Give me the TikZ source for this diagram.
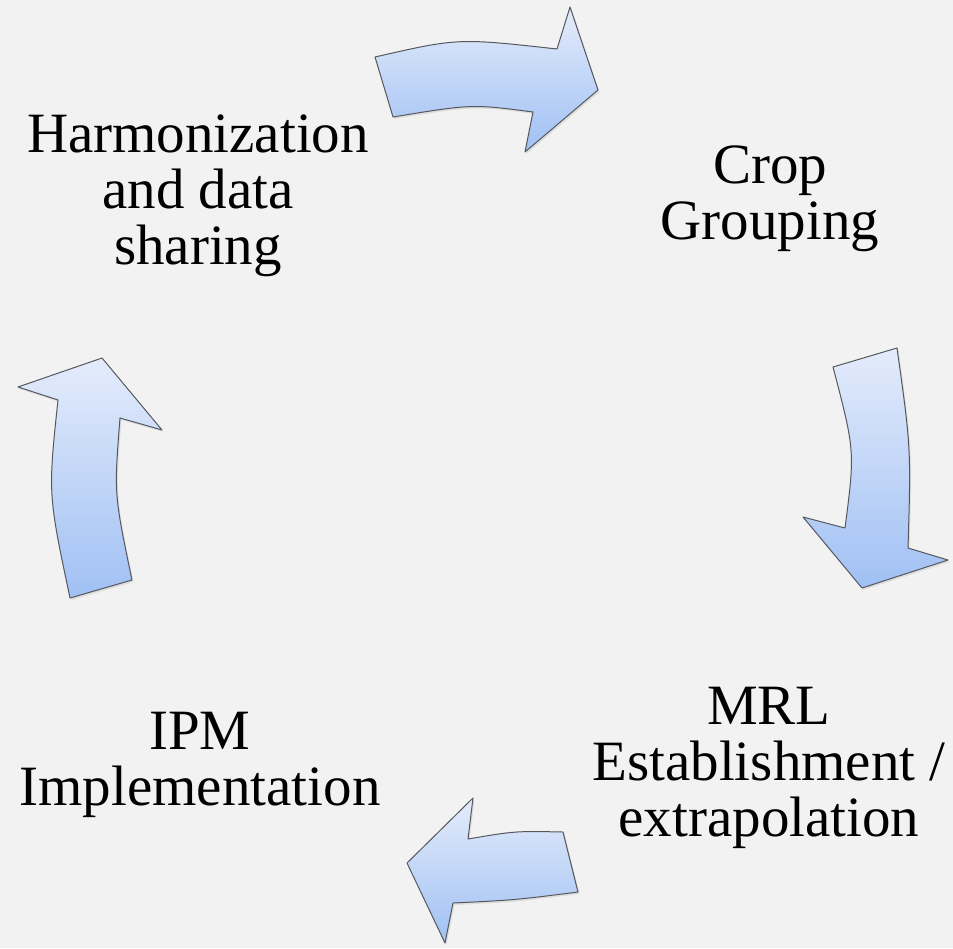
\documentclass[tikz,border=0pt]{standalone}
\usepackage{fontspec}
\setmainfont{Liberation Serif}
\usetikzlibrary{positioning,shadows}

\definecolor{pagebg}{RGB}{242,242,242}
\definecolor{arrowtop}{RGB}{228,236,251}
\definecolor{arrowbottom}{RGB}{160,192,244}
\definecolor{arrowline}{RGB}{85,88,95}

\begin{document}
\begin{tikzpicture}[x=1pt,y=-1pt,
    cyclearrow/.style={draw=arrowline, line width=1pt, line join=round,
      top color=arrowtop, bottom color=arrowbottom,
      drop shadow={opacity=0.18, shadow xshift=1.5pt, shadow yshift=-2pt}},
    stage/.style={align=center, inner sep=0pt, font=\fontsize{57}{56}\selectfont}]
    \fill[pagebg] (0,0) rectangle (953,948);
    \useasboundingbox (0,0) rectangle (953,948);

    \node[stage] (harmon) at (198,196) {Harmonization\\and data\\sharing};
    \node[stage] (crop) at (770,199) {Crop\\Grouping};
    \node[stage] (mrl) at (769,768) {MRL\\Establishment /\\extrapolation};
    \node[stage] (ipm) at (200,765) {IPM\\Implementation};

    % arrows between the stages
    \path[cyclearrow] (375,57) .. controls (458,38) .. (557,49) -- (570,7) -- (598,90)
        -- (525,152) -- (533,112) .. controls (472,104) .. (393,117) -- cycle;
    \path[cyclearrow] (833,367) -- (897,348) .. controls (911,448) .. (908,548)
        -- (948,560) -- (862,588) -- (803,517) -- (845,528)
        .. controls (855,451) .. cycle;
    \path[cyclearrow] (563,832) .. controls (515,831) .. (468,839) -- (473,798)
        -- (407,863) -- (445,943) -- (453,903) .. controls (515,900) .. (578,892) -- cycle;
    \path[cyclearrow] (70,598) -- (132,580) .. controls (114,494) .. (120,418)
        -- (162,430) -- (102,358) -- (18,387) -- (58,400)
        .. controls (48,494) .. cycle;
\end{tikzpicture}
\end{document}
